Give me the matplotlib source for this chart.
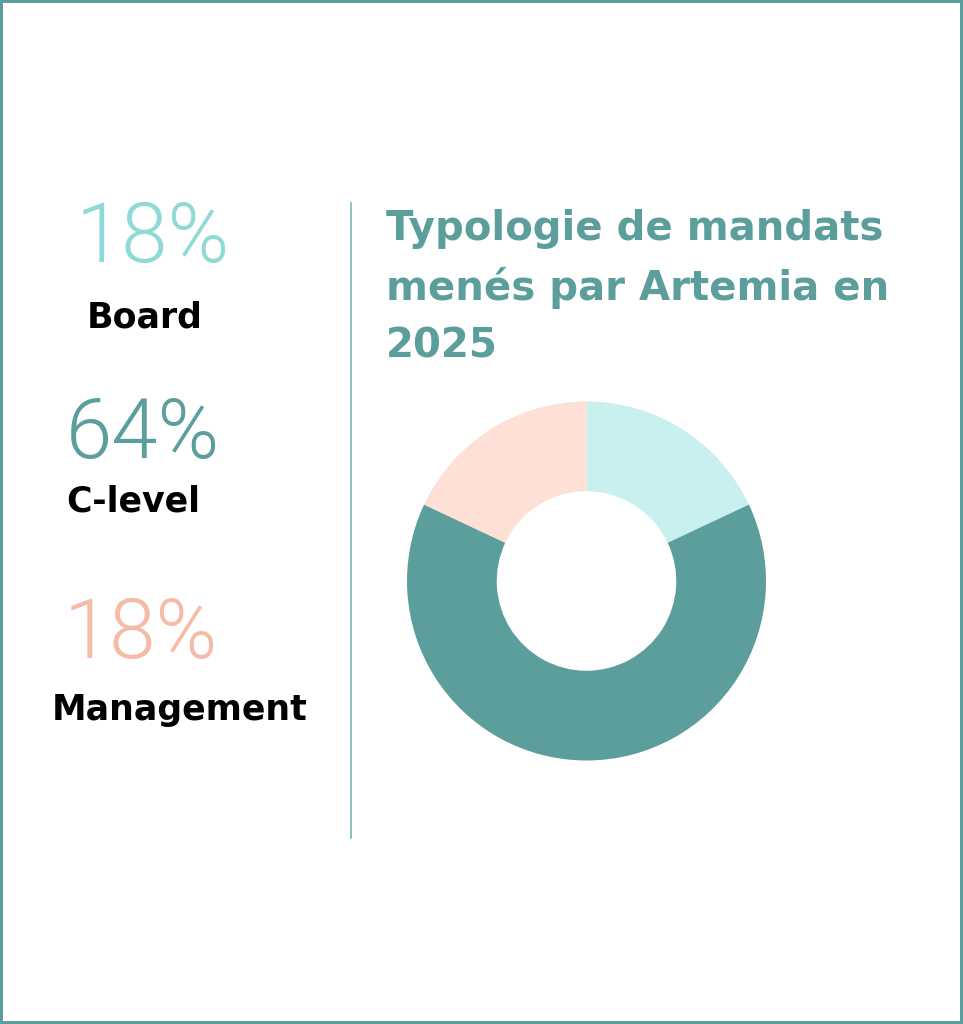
import matplotlib.pyplot as plt
from matplotlib.patches import Rectangle
from matplotlib.lines import Line2D

# data
labels = ["Board", "C-level", "Management"]
shares = [18, 64, 18]
pct_labels = ["18%", "64%", "18%"]
title_lines = ["Typologie de mandats", "menés par Artemia en", "2025"]

wedge_colors = ["#c8f0ee", "#5b9e9c", "#fee0d6"]
num_colors = ["#8fd9d6", "#5b9e9c", "#f5bba6"]
teal = "#5b9e9c"

W, H = 963, 1024
fig = plt.figure(figsize=(W / 100, H / 100), dpi=100)
fig.patch.set_facecolor("white")

def fx(px):
    return px / W

def fy(py):
    return 1 - py / H

# outer frame
fig.patches.append(Rectangle((0, 0), 1, 1, transform=fig.transFigure,
                             fill=False, edgecolor=teal, linewidth=4.3))

# divider
fig.add_artist(Line2D([fx(351), fx(351)], [fy(203), fy(838)],
                      transform=fig.transFigure, color="#7fb5b3", linewidth=1.2))

# left column: big numbers + labels
num_pos = [(76, 262), (66, 458), (64, 658)]
lab_pos = [(87, 328), (66, 512), (52, 720)]
for i in range(3):
    fig.text(fx(num_pos[i][0]), fy(num_pos[i][1]), pct_labels[i],
             fontsize=60, color=num_colors[i], family="Roboto",
             fontweight=300, va="baseline", ha="left")
    fig.text(fx(lab_pos[i][0]), fy(lab_pos[i][1]), labels[i],
             fontsize=25, color="black", family="DejaVu Sans",
             fontweight="bold", va="baseline", ha="left")

# title, one line at a time
for line, base in zip(title_lines, [240, 300, 358]):
    fig.text(fx(386), fy(base), line, fontsize=29, color=teal,
             family="DejaVu Sans", fontweight="bold", va="baseline", ha="left")

# donut
cx, cy, r = 586.5, 581, 179.5
ax = fig.add_axes([fx(cx - r), fy(cy + r), 2 * r / W, 2 * r / H])
ax.pie(shares, colors=wedge_colors, startangle=90, counterclock=False,
       radius=1, wedgeprops=dict(width=0.5, linewidth=0))
ax.set_xlim(-1, 1)
ax.set_ylim(-1, 1)
ax.set_aspect("equal")
ax.axis("off")

fig.savefig("out.png", dpi=100, facecolor="white")
